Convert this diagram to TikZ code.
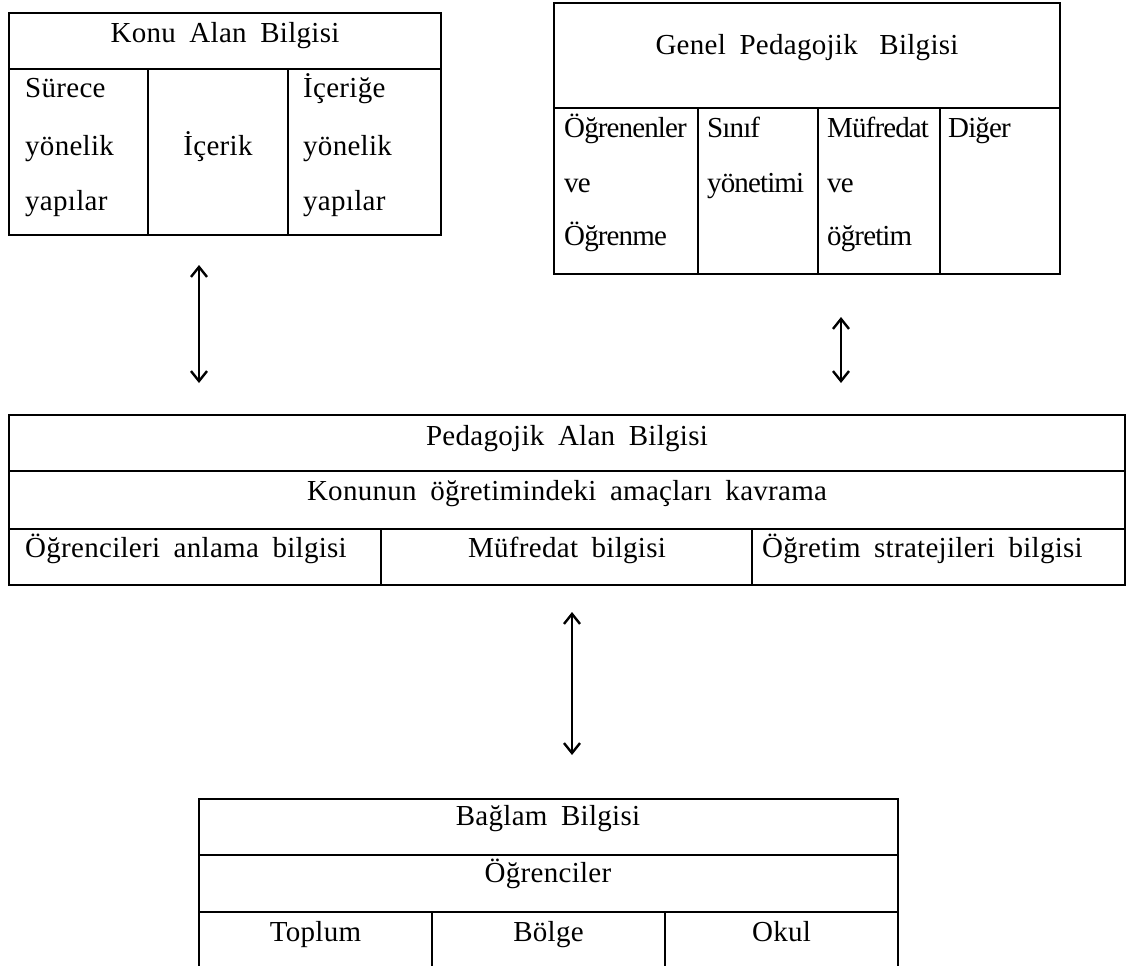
\documentclass[tikz,border=0pt]{standalone}
\usepackage{fontspec}
\setmainfont{Liberation Serif}[WordSpace=1.8,LetterSpace=1]
\usetikzlibrary{arrows.meta}
\begin{document}
\begin{tikzpicture}[x=1pt,y=-1pt,
  frame/.style={draw=black,line width=2pt,inner sep=0pt},
  rule/.style={draw=black,line width=2pt},
  lbl/.style={font=\fontsize{29}{29}\selectfont,inner sep=0pt,anchor=base},
  lbll/.style={lbl,anchor=base west},
  tight/.style={lbll,font=\fontsize{29}{29}\selectfont\addfontfeatures{LetterSpace=-3}},
  link/.style={line width=2.4pt,
    {Straight Barb[length=10pt,width=16pt]}-{Straight Barb[length=10pt,width=16pt]}}]
\useasboundingbox (0,0) rectangle (1133,966);

% --- Konu Alan Bilgisi ---
\node[frame,minimum width=432pt,minimum height=222pt] (konu) at (225,124) {};
\draw[rule] (9,69) -- (441,69) (148,69) -- (148,235) (288,69) -- (288,235);
\node[lbl] (konuT) at (225,43) {Konu Alan Bilgisi};
\node[lbll] (k1a) at (25,98) {Sürece};
\node[lbll] (k1b) at (25,155) {yönelik};
\node[lbll] (k1c) at (25,210) {yapılar};
\node[lbl]  (k2a) at (218,155) {İçerik};
\node[lbll] (k3a) at (303,98) {İçeriğe};
\node[lbll] (k3b) at (303,155) {yönelik};
\node[lbll] (k3c) at (303,210) {yapılar};

% --- Genel Pedagojik Bilgisi ---
\node[frame,minimum width=506pt,minimum height=271pt] (genel) at (807,138.5) {};
\draw[rule] (554,108) -- (1060,108) (698,108) -- (698,274)
  (818,108) -- (818,274) (940,108) -- (940,274);
\node[lbl] (genelT) at (807,55) {Genel Pedagojik\hspace{8pt} Bilgisi};
\node[tight] (g1a) at (564,137) {Öğrenenler};
\node[tight] (g1b) at (564,192) {ve};
\node[tight] (g1c) at (564,245) {Öğrenme};
\node[tight] (g2a) at (707,137) {Sınıf};
\node[tight] (g2b) at (707,192) {yönetimi};
\node[tight] (g3a) at (827,137) {Müfredat};
\node[tight] (g3b) at (827,192) {ve};
\node[tight] (g3c) at (827,245) {öğretim};
\node[tight] (g4a) at (948,137) {Diğer};

% --- Pedagojik Alan Bilgisi ---
\node[frame,minimum width=1116pt,minimum height=170pt] (pab) at (567,500) {};
\draw[rule] (9,471) -- (1125,471) (9,529) -- (1125,529)
  (381,529) -- (381,585) (752,529) -- (752,585);
\node[lbl] (pabT) at (567,445) {Pedagojik Alan Bilgisi};
\node[lbl] (pab2) at (567,500) {Konunun öğretimindeki amaçları kavrama};
\node[lbll] (pab3a) at (25,557) {Öğrencileri anlama bilgisi};
\node[lbl]  (pab3b) at (567,557) {Müfredat bilgisi};
\node[lbll] (pab3c) at (762,557) {Öğretim stratejileri bilgisi};

% --- Bağlam Bilgisi (open at the bottom) ---
\draw[rule] (199,968) |- (898,799) -- (898,968);
\draw[rule] (199,855) -- (898,855) (199,912) -- (898,912)
  (432,912) -- (432,968) (665,912) -- (665,968);
\node[lbl] (bagT) at (548,825) {Bağlam Bilgisi};
\node[lbl] (bag2) at (548,882) {Öğrenciler};
\node[lbl] (bag3a) at (315.5,941) {Toplum};
\node[lbl] (bag3b) at (548.5,941) {Bölge};
\node[lbl] (bag3c) at (781.5,941) {Okul};

% --- two-way links ---
\coordinate (kTop) at (199,265);
\coordinate (kBot) at (199,383);
\coordinate (gTop) at (841,317);
\coordinate (gBot) at (841,383);
\coordinate (bTop) at (572,612);
\coordinate (bBot) at (572,755);
\draw[link] (kTop) -- (kBot);
\draw[link] (gTop) -- (gBot);
\draw[link] (bTop) -- (bBot);
\end{tikzpicture}
\end{document}
